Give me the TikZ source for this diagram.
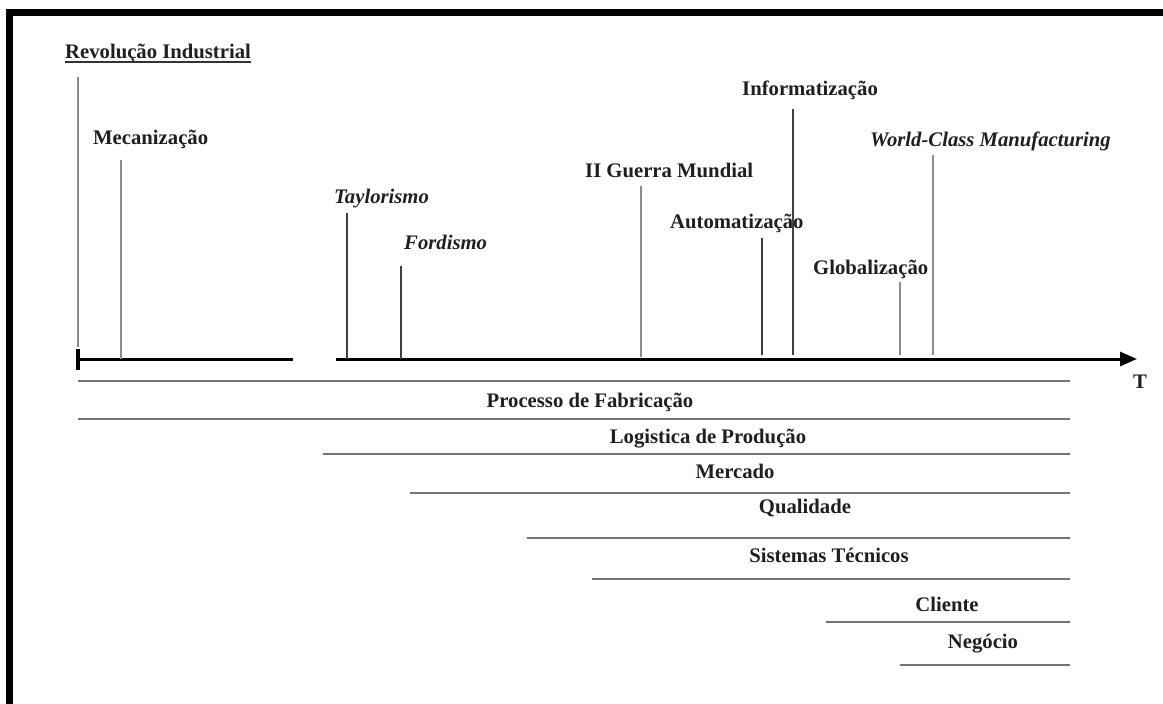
\documentclass[tikz,border=0pt]{standalone}
\usepackage{fontspec}
\setmainfont{Liberation Serif}
\usetikzlibrary{arrows.meta}

\begin{document}
\begin{tikzpicture}[x=1pt,y=-1pt,
  lbl/.style={font=\fontsize{20.7}{24}\selectfont\bfseries, text=black!88, inner sep=0pt},
  ilbl/.style={font=\fontsize{20.7}{24}\selectfont\bfseries\itshape, text=black!88, inner sep=0pt},
  mark line/.style={draw=black!45, line width=1.4pt},
  dark mark/.style={draw=black!75, line width=1.2pt},
  band/.style={draw=black!55, line width=2pt},
  axis/.style={draw=black, line width=3pt}]

\useasboundingbox (0,0) rectangle (1163,704);
\fill[white] (0,0) rectangle (1163,704);

% frame
\fill[black] (6,9) rectangle (1163,16);
\fill[black] (6,9) rectangle (13,704);

% time axis
\coordinate (a0) at (78,359);
\coordinate (a1) at (293,359);
\coordinate (a2) at (336,359);
\coordinate (a3) at (1137,359);
\draw[axis] (a0) -- (a1);
\draw[axis, -{Triangle[length=17pt,width=14pt]}] (a2) -- (a3);
\draw[draw=black, line width=4pt] (78,349) coordinate (t0) -- (78,370) coordinate (t1);
\node[lbl, anchor=base] (T) at (1140,388) {T};

% events
\node[lbl, anchor=base west] (rev) at (65,58) {Revolução Industrial};
\draw[draw=black!80, line width=1.6pt] ([yshift=-4pt]rev.base west) -- ([yshift=-4pt]rev.base east);
\node[lbl, anchor=base west] (mec) at (93,144) {Mecanização};
\node[ilbl, anchor=base west] (tay) at (334,203) {Taylorismo};
\node[ilbl, anchor=base west] (ford) at (404,249) {Fordismo};
\node[lbl, anchor=base west] (guerra) at (585,177) {II Guerra Mundial};
\node[lbl, anchor=base west] (info) at (742,95) {Informatização};
\node[lbl, anchor=base west] (auto) at (670,228) {Automatização};
\node[ilbl, anchor=base west] (wcm) at (870,146) {World-Class Manufacturing};
\node[lbl, anchor=base west] (glob) at (813,274) {Globalização};

\coordinate (rev top) at (78,77);   \coordinate (rev bot) at (78,347);
\coordinate (mec top) at (121,160); \coordinate (mec bot) at (121,359);
\coordinate (tay top) at (347,213); \coordinate (tay bot) at (347,359);
\coordinate (ford top) at (401,266); \coordinate (ford bot) at (401,359);
\coordinate (guerra top) at (641,186); \coordinate (guerra bot) at (641,357);
\coordinate (auto top) at (762,238); \coordinate (auto bot) at (762,355);
\coordinate (info top) at (793,109); \coordinate (info bot) at (793,355);
\coordinate (glob top) at (900,282); \coordinate (glob bot) at (900,355);
\coordinate (wcm top) at (933,155); \coordinate (wcm bot) at (933,355);

\draw[mark line] (rev top) -- (rev bot);
\draw[mark line] (mec top) -- (mec bot);
\draw[dark mark] (tay top) -- (tay bot);
\draw[dark mark] (ford top) -- (ford bot);
\draw[mark line] (guerra top) -- (guerra bot);
\draw[dark mark] (auto top) -- (auto bot);
\draw[dark mark] (info top) -- (info bot);
\draw[mark line] (glob top) -- (glob bot);
\draw[mark line] (wcm top) -- (wcm bot);

% areas of focus
\coordinate (b1l) at (78,381);  \coordinate (b1r) at (1070,381);
\coordinate (b2l) at (78,419);  \coordinate (b2r) at (1070,419);
\coordinate (b3l) at (323,454); \coordinate (b3r) at (1070,454);
\coordinate (b4l) at (410,493); \coordinate (b4r) at (1070,493);
\coordinate (b5l) at (527,538); \coordinate (b5r) at (1070,538);
\coordinate (b6l) at (592,579); \coordinate (b6r) at (1070,579);
\coordinate (b7l) at (826,622); \coordinate (b7r) at (1070,622);
\coordinate (b8l) at (900,665); \coordinate (b8r) at (1070,665);
\foreach \i in {1,...,8} { \draw[band] (b\i l) -- (b\i r); }

\node[lbl, anchor=base] (proc) at (590,407) {Processo de Fabricação};
\node[lbl, anchor=base] (log) at (708,443) {Logistica de Produção};
\node[lbl, anchor=base] (merc) at (735,478) {Mercado};
\node[lbl, anchor=base] (qual) at (805,513) {Qualidade};
\node[lbl, anchor=base] (sist) at (829,562) {Sistemas Técnicos};
\node[lbl, anchor=base] (cli) at (947,611) {Cliente};
\node[lbl, anchor=base] (neg) at (983,648) {Negócio};

\end{tikzpicture}
\end{document}
